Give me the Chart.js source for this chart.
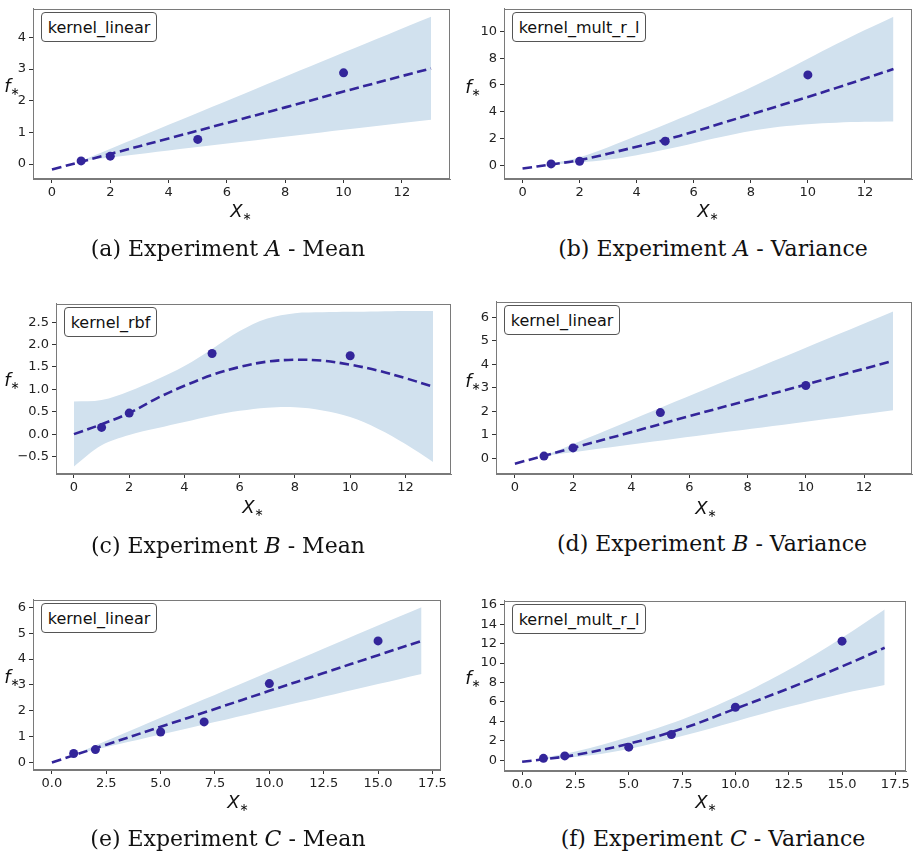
<!DOCTYPE html>
<html><head><meta charset="utf-8">
<script src="https://cdn.jsdelivr.net/npm/chart.js@4.4.1/dist/chart.umd.min.js"></script>
<style>
html,body{margin:0;padding:0;width:914px;height:855px;overflow:hidden;background:#fff;}
body{position:relative;}
canvas.cv{position:absolute;}
.leg{position:absolute;border:1px solid #555;border-radius:4px;background:#fff;font:16px 'DejaVu Sans';color:#111;box-sizing:border-box;display:flex;align-items:center;justify-content:center;white-space:nowrap;}
.cap{position:absolute;font-family:'DejaVu Serif';font-size:22px;transform:translate(-50%,-50%);white-space:nowrap;color:#111;}
.lab{position:absolute;font:italic 18px 'DejaVu Sans';transform:translate(-50%,-50%);white-space:nowrap;color:#111;}
.lab sub{font-style:normal;font-size:11px;vertical-align:-3px;}
</style>
</head><body>
<script>
// ---------- DATA ----------
// (a) Experiment A - Mean, kernel_linear
const aPtX = [1, 2, 5, 10];
const aPtY = [0.1, 0.25, 0.78, 2.88];
const aMeanX = [0, 2, 4, 6, 8, 10, 13];
const aMeanY = [-0.17, 0.32, 0.81, 1.30, 1.79, 2.29, 3.02];
const aBandX = [1, 4, 7, 10, 13];
const aBandUp = [0.1, 1.24, 2.38, 3.52, 4.65];
const aBandLo = [0.1, 0.43, 0.75, 1.08, 1.40];

// (b) Experiment A - Variance, kernel_mult_r_l
const bPtX = [1, 2, 5, 10];
const bPtY = [0.1, 0.3, 1.8, 6.75];
const bMeanX = [0, 1, 2, 4, 5, 6, 7, 8, 9, 10, 11, 12, 13];
const bMeanY = [-0.25, 0.06, 0.38, 1.38, 1.9, 2.5, 3.15, 3.8, 4.45, 5.1, 5.78, 6.48, 7.19];
const bBandX = [1, 2, 3, 4, 5, 6, 7, 8, 9, 10, 11, 12, 13];
const bBandUp = [0.12, 0.6, 1.35, 2.2, 3.05, 3.92, 4.83, 5.8, 6.85, 7.95, 9.05, 10.1, 11.1];
const bBandLo = [0.05, 0.2, 0.42, 0.75, 1.17, 1.65, 2.12, 2.55, 2.87, 3.07, 3.18, 3.24, 3.27];

// (c) Experiment B - Mean, kernel_rbf
const cPtX = [1, 2, 5, 10];
const cPtY = [0.15, 0.47, 1.8, 1.75];
const cMeanX = [0, 1, 2, 3, 4, 5, 6, 7, 8, 9, 10, 11, 12, 13];
const cMeanY = [0.0, 0.22, 0.47, 0.8, 1.08, 1.32, 1.5, 1.62, 1.66, 1.64, 1.55, 1.42, 1.25, 1.06];
const cBandX = [0, 1, 2, 3, 4, 5, 6, 7, 8, 9, 10, 11, 12, 13];
const cBandUp = [0.73, 0.76, 0.96, 1.22, 1.52, 1.9, 2.3, 2.58, 2.7, 2.72, 2.73, 2.74, 2.75, 2.75];
const cBandLo = [-0.72, -0.25, -0.02, 0.13, 0.27, 0.41, 0.52, 0.59, 0.6, 0.53, 0.38, 0.12, -0.22, -0.62];

// (d) Experiment B - Variance, kernel_linear
const dPtX = [1, 2, 5, 10];
const dPtY = [0.1, 0.45, 1.95, 3.1];
const dMeanX = [0, 2, 4, 6, 8, 10, 13];
const dMeanY = [-0.22, 0.45, 1.12, 1.8, 2.47, 3.14, 4.15];
const dBandX = [1, 4, 7, 10, 13];
const dBandUp = [0.1, 1.64, 3.18, 4.71, 6.25];
const dBandLo = [0.1, 0.59, 1.08, 1.56, 2.05];

// (e) Experiment C - Mean, kernel_linear
const ePtX = [1, 2, 5, 7, 10, 15];
const ePtY = [0.35, 0.5, 1.18, 1.57, 3.05, 4.7];
const eMeanX = [0, 2.5, 5, 7.5, 10, 12.5, 15, 17];
const eMeanY = [0.0, 0.69, 1.38, 2.07, 2.77, 3.46, 4.15, 4.7];
const eBandX = [1, 5, 9, 13, 17];
const eBandUp = [0.3, 1.73, 3.15, 4.58, 6.0];
const eBandLo = [0.3, 1.08, 1.86, 2.64, 3.42];

// (f) Experiment C - Variance, kernel_mult_r_l
const fPtX = [1, 2, 5, 7, 10, 15];
const fPtY = [0.2, 0.45, 1.35, 2.65, 5.45, 12.25];
const fMeanX = [0, 1, 2.5, 5, 7.5, 10, 12.5, 15, 17];
const fMeanY = [-0.15, 0.1, 0.55, 1.7, 3.25, 5.3, 7.4, 9.65, 11.57];
const fBandX = [1, 2.5, 5, 7.5, 10, 12.5, 15, 17];
const fBandUp = [0.25, 0.9, 2.4, 4.2, 6.5, 9.3, 12.6, 15.5];
const fBandLo = [0.15, 0.33, 1.17, 2.5, 4.0, 5.5, 6.85, 7.73];

// tick values and labels
const xTicks13 = [0, 2, 4, 6, 8, 10, 12];
const xTickLabels13 = ['0', '2', '4', '6', '8', '10', '12'];
const xTicks17 = [0, 2.5, 5, 7.5, 10, 12.5, 15, 17.5];
const xTickLabels17 = ['0.0', '2.5', '5.0', '7.5', '10.0', '12.5', '15.0', '17.5'];
const aYTicks = [0, 1, 2, 3, 4];
const aYTickLabels = ['0', '1', '2', '3', '4'];
const bYTicks = [0, 2, 4, 6, 8, 10];
const bYTickLabels = ['0', '2', '4', '6', '8', '10'];
const cYTicks = [-0.5, 0, 0.5, 1, 1.5, 2, 2.5];
const cYTickLabels = ['\u22120.5', '0.0', '0.5', '1.0', '1.5', '2.0', '2.5'];
const dYTicks = [0, 1, 2, 3, 4, 5, 6];
const dYTickLabels = ['0', '1', '2', '3', '4', '5', '6'];
const eYTicks = [0, 1, 2, 3, 4, 5, 6];
const eYTickLabels = ['0', '1', '2', '3', '4', '5', '6'];
const fYTicks = [0, 2, 4, 6, 8, 10, 12, 14, 16];
const fYTickLabels = ['0', '2', '4', '6', '8', '10', '12', '14', '16'];

const kernelNames = ['kernel_linear', 'kernel_mult_r_l', 'kernel_rbf', 'kernel_linear', 'kernel_linear', 'kernel_mult_r_l'];
const captionLetters = ['(a)', '(b)', '(c)', '(d)', '(e)', '(f)'];
const captionExps = ['A', 'A', 'B', 'B', 'C', 'C'];
const captionKinds = ['Mean', 'Variance', 'Mean', 'Variance', 'Mean', 'Variance'];

// ---------- LAYOUT / STYLE ----------
const MARK = '#33259a';
const BAND = '#d1e1ee';
const FRAME = '#7a7a7a';
const TICKC = '#222';
const AXW = 45, AXH = 30, PADT = 6, PADR = 6;

const panels = [
  {frame:{L:33,R:450,T:4,B:179}, xr:[-0.65,13.65], yr:[-0.47,4.9], xt:xTicks13, xl:xTickLabels13, yt:aYTicks, yl:aYTickLabels,
   mx:aMeanX, my:aMeanY, bx:aBandX, bu:aBandUp, bl:aBandLo, px:aPtX, py:aPtY,
   fLab:[12,86], xLab:[241,211], cap:[228,248]},
  {frame:{L:504,R:912,T:4,B:179}, xr:[-0.65,13.65], yr:[-1.03,11.69], xt:xTicks13, xl:xTickLabels13, yt:bYTicks, yl:bYTickLabels,
   mx:bMeanX, my:bMeanY, bx:bBandX, bu:bBandUp, bl:bBandLo, px:bPtX, py:bPtY,
   fLab:[473,87], xLab:[708,211], cap:[713,248]},
  {frame:{L:56,R:451,T:299,B:474}, xr:[-0.65,13.65], yr:[-0.89,2.91], xt:xTicks13, xl:xTickLabels13, yt:cYTicks, yl:cYTickLabels,
   mx:cMeanX, my:cMeanY, bx:cBandX, bu:cBandUp, bl:cBandLo, px:cPtX, py:cPtY,
   fLab:[12,380], xLab:[253,507], cap:[228,545]},
  {frame:{L:496,R:912,T:297,B:474}, xr:[-0.65,13.65], yr:[-0.66,6.66], xt:xTicks13, xl:xTickLabels13, yt:dYTicks, yl:dYTickLabels,
   mx:dMeanX, my:dMeanY, bx:dBandX, bu:dBandUp, bl:dBandLo, px:dPtX, py:dPtY,
   fLab:[473,381], xLab:[706,508], cap:[712,543]},
  {frame:{L:33,R:443,T:595,B:770}, xr:[-0.87,17.88], yr:[-0.29,6.29], xt:xTicks17, xl:xTickLabels17, yt:eYTicks, yl:eYTickLabels,
   mx:eMeanX, my:eMeanY, bx:eBandX, bu:eBandUp, bl:eBandLo, px:ePtX, py:ePtY,
   fLab:[12,677], xLab:[238,802], cap:[228,838]},
  {frame:{L:504,R:906,T:596,B:771}, xr:[-0.85,18.0], yr:[-1.1,16.4], xt:xTicks17, xl:xTickLabels17, yt:fYTicks, yl:fYTickLabels,
   mx:fMeanX, my:fMeanY, bx:fBandX, bu:fBandUp, bl:fBandLo, px:fPtX, py:fPtY,
   fLab:[473,678], xLab:[706,802], cap:[713,838]}
];

const framePlugin = {
  id:'framebox',
  afterDraw(chart){
    const a = chart.chartArea, ctx = chart.ctx;
    ctx.save();
    ctx.strokeStyle = FRAME; ctx.lineWidth = 1;
    ctx.strokeRect(Math.round(a.left)+0.5, Math.round(a.top)+0.5, Math.round(a.right-a.left)-1, Math.round(a.bottom-a.top)-1);
    ctx.restore();
  }
};

const zip = (xs, ys) => xs.map((x, i) => ({x, y: ys[i]}));

function addEl(cls, html, x, y, w, h){
  const d = document.createElement('div');
  d.className = cls; d.innerHTML = html;
  d.style.left = x + 'px'; d.style.top = y + 'px';
  if (w) { d.style.width = w + 'px'; d.style.height = h + 'px'; }
  document.body.appendChild(d);
  return d;
}

panels.forEach((p, i) => {
  const f = p.frame;
  const cv = document.createElement('canvas');
  cv.className = 'cv';
  const W = f.R - f.L + AXW + PADR, H = f.B - f.T + PADT + AXH;
  cv.width = W; cv.height = H;
  cv.style.left = (f.L - AXW) + 'px'; cv.style.top = (f.T - PADT) + 'px';
  cv.style.width = W + 'px'; cv.style.height = H + 'px';
  document.body.appendChild(cv);

  const tickFont = {family:'DejaVu Sans', size:13};
  const TENS = 0.35;
  new Chart(cv, {
    type:'scatter',
    data:{datasets:[
      {data:zip(p.bx, p.bu), showLine:true, borderWidth:0, pointRadius:0, fill:'+1', backgroundColor:BAND, borderColor:BAND, tension:TENS, order:3},
      {data:zip(p.bx, p.bl), showLine:true, borderWidth:0, pointRadius:0, fill:false, borderColor:BAND, tension:TENS, order:4},
      {data:zip(p.mx, p.my), showLine:true, borderWidth:2.6, borderDash:[9.5,4.5], borderColor:MARK, pointRadius:0, fill:false, tension:TENS, order:2},
      {data:zip(p.px, p.py), showLine:false, pointRadius:4.5, pointBackgroundColor:MARK, pointBorderWidth:0, order:1}
    ]},
    options:{
      responsive:false, animation:false, devicePixelRatio:1,
      layout:{padding:{left:0, top:PADT, right:PADR, bottom:0}},
      plugins:{legend:{display:false}, tooltip:{enabled:false}},
      scales:{
        x:{type:'linear', position:'bottom', min:p.xr[0], max:p.xr[1],
          afterBuildTicks:s=>{ s.ticks = p.xt.map(v=>({value:v})); },
          afterFit:s=>{ s.height = AXH; },
          ticks:{callback:(v, k)=>p.xl[k], font:tickFont, color:TICKC, padding:2, maxRotation:0, autoSkip:false},
          grid:{display:true, drawOnChartArea:false, drawTicks:true, tickLength:4, color:'#333'},
          border:{display:true, color:FRAME}},
        y:{type:'linear', position:'left', min:p.yr[0], max:p.yr[1],
          afterBuildTicks:s=>{ s.ticks = p.yt.map(v=>({value:v})); },
          afterFit:s=>{ s.width = AXW; },
          ticks:{callback:(v, k)=>p.yl[k], font:tickFont, color:TICKC, padding:3, autoSkip:false},
          grid:{display:true, drawOnChartArea:false, drawTicks:true, tickLength:4, color:'#333'},
          border:{display:true, color:FRAME}}
      }
    },
    plugins:[framePlugin]
  });

  // legend-like box
  const name = kernelNames[i];
  const lw = name === 'kernel_mult_r_l' ? 134 : (name === 'kernel_rbf' ? 93 : 116);
  addEl('leg', name, f.L + 8, f.T + 8, lw, 30);
  // axis labels
  addEl('lab', '<i>f</i><sub>\u2217</sub>', p.fLab[0], p.fLab[1]);
  addEl('lab', '<i>X</i><sub>\u2217</sub>', p.xLab[0], p.xLab[1]);
  // caption
  addEl('cap', captionLetters[i] + ' Experiment <i>' + captionExps[i] + '</i> - ' + captionKinds[i], p.cap[0], p.cap[1]);
});
</script>
</body></html>
